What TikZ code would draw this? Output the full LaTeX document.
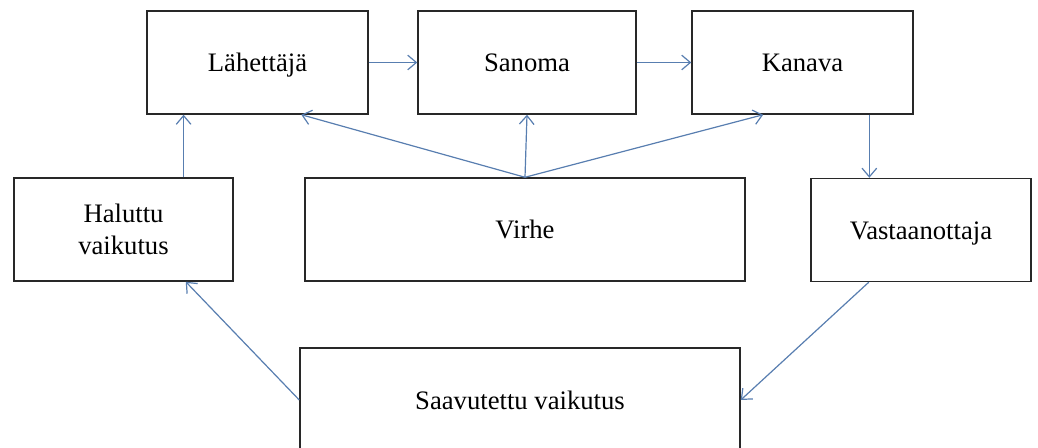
\documentclass[tikz,border=0pt]{standalone}
\usepackage{fontspec}
\setmainfont{Liberation Serif}
\usetikzlibrary{arrows.meta}

\definecolor{arrowblue}{RGB}{88,126,176}
\definecolor{boxgray}{RGB}{40,40,40}

\begin{document}
\begin{tikzpicture}[x=0.75pt,y=-0.75pt,
    >={Straight Barb[length=6.5pt,width=11pt]},
    box/.style={draw=boxgray,line width=1.1pt,fill=white,inner sep=0pt,align=center,font=\fontsize{20}{24}\selectfont},
    oneline/.style={box,text height=17pt,text depth=3pt},
    flow/.style={->,draw=arrowblue,line width=0.9pt}]
  \useasboundingbox (0,0) rectangle (1038,448);
  \node[oneline,minimum width=165.75pt,minimum height=77.25pt] (lah) at (257.5,62.5) {Lähettäjä};
  \node[oneline,minimum width=163.5pt,minimum height=77.25pt] (san) at (527,62.5) {Sanoma};
  \node[oneline,minimum width=165.75pt,minimum height=77.25pt] (kan) at (802.5,62.5) {Kanava};
  \node[box,minimum width=164.25pt,minimum height=77.25pt] (hal) at (123.5,229.5) {Haluttu\\vaikutus};
  \node[oneline,minimum width=330pt,minimum height=77.25pt] (vir) at (525,229.5) {Virhe};
  \node[oneline,minimum width=165pt,minimum height=77.25pt] (vas) at (921,230) {Vastaanottaja};
  \node[oneline,minimum width=330pt,minimum height=78pt] (saa) at (520,400) {Saavutettu vaikutus};
  \draw[flow] (lah) -- (san);
  \draw[flow] (san) -- (kan);
  \draw[flow] (kan.-38) -- (kan.-38 |- vas.north);
  \draw[flow] (vir.north) -- (lah.-50);
  \draw[flow] (vir.north) -- (san.south);
  \draw[flow] (vir.north) -- (kan.-127);
  \draw[flow] (vas.-135) -- (saa.east);
  \draw[flow] (saa.west) -- (hal.-40);
  \draw[flow] (hal.41) -- (hal.41 |- lah.south);
\end{tikzpicture}
\end{document}
